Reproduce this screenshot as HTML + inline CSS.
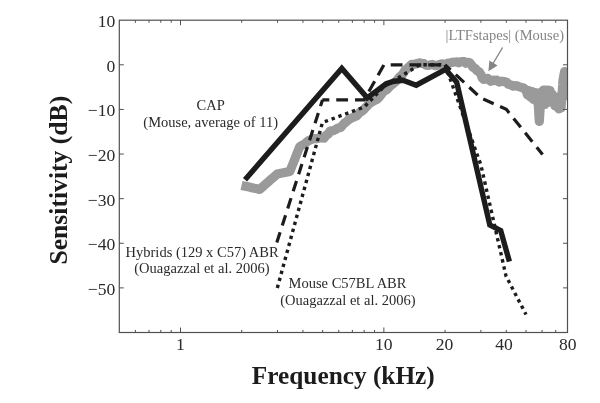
<!DOCTYPE html>
<html><head><meta charset="utf-8"><title>chart</title>
<style>
html,body{margin:0;padding:0;background:#fff;}
body{width:600px;height:403px;overflow:hidden;font-family:"Liberation Serif",serif;}
svg{display:block;will-change:transform;filter:blur(0.45px)}
text{font-family:"Liberation Serif",serif;fill:#2a2a2a}
.tk{font-size:17.6px}
.lb{font-size:14.5px}
.ax{font-size:25.3px;font-weight:bold;fill:#1c1c1c}
</style></head><body>
<svg width="600" height="403" viewBox="0 0 600 403">
<rect width="600" height="403" fill="#fff"/>
<defs><clipPath id="c"><rect x="119.3" y="20.2" width="448.2" height="312.3"/></clipPath></defs>
<g clip-path="url(#c)"><path d="M241.5 185.4 L244.1 186.0 L246.7 186.5 L249.3 187.1 L251.8 187.7 L254.4 188.3 L257.0 188.8 L259.6 189.4 L261.6 187.7 L263.5 186.0 L265.5 184.3 L267.5 182.6 L269.4 180.8 L271.4 179.1 L273.4 177.4 L275.3 175.7 L277.3 174.0 L279.8 173.5 L282.3 173.0 L284.8 172.5 L287.3 172.0 L289.8 171.5 L290.8 169.0 L291.8 166.6 L292.8 164.1 L293.8 161.6 L294.8 159.2 L295.7 156.7 L296.7 154.2 L297.7 151.7 L298.7 149.3 L299.7 146.8 L302.0 145.2 L304.4 144.2 L306.4 142.3 L308.4 140.8 L311.0 139.6 L313.8 138.5 L316.2 138.8 L318.7 138.3 L321.4 137.7 L324.0 138.2 L326.1 135.4 L328.3 133.9 L330.1 131.1 L333.0 130.6 L335.8 129.5 L338.1 127.9 L340.7 127.4 L343.0 124.8 L344.5 123.1 L346.5 121.7 L348.7 119.7 L350.9 118.4 L353.8 117.1 L356.8 115.8 L358.2 114.2 L360.1 112.0 L361.9 111.4 L363.6 109.9 L365.1 107.9 L366.6 106.7 L368.3 104.5 L370.1 103.1 L372.5 101.6 L374.7 100.4 L377.1 99.3 L378.7 97.9 L380.8 95.0 L382.3 93.2 L384.1 90.8 L386.6 90.1 L388.6 87.8 L390.6 85.6 L392.9 84.0 L394.9 82.1 L396.2 81.2 L398.3 78.4 L400.0 76.4 L401.7 75.4 L403.6 72.9 L404.9 70.3 L407.1 68.6 L409.5 66.3 L411.6 64.3 L414.3 64.4 L417.3 63.5 L420.3 62.8 L421.8 63.5 L423.9 63.6 L425.6 65.1 L428.8 65.3 L432.4 64.4 L435.4 65.7 L438.4 65.0 L440.1 64.3 L442.4 63.9 L445.1 64.7 L447.8 63.2 L450.1 63.0 L452.1 62.3 L455.4 62.0 L457.2 61.9 L458.7 62.8 L461.8 61.5 L464.4 61.6 L465.9 63.3 L468.2 62.4 L469.5 62.5 L472.1 65.6 L472.5 66.9 L475.7 68.7 L476.8 70.6 L479.0 71.6 L481.4 75.2 L482.0 77.7 L483.4 79.3 L485.5 79.2 L487.7 78.4 L490.6 81.2 L492.7 80.0 L494.5 80.6 L496.8 80.1 L499.1 82.1 L501.9 81.2 L503.5 81.6 L505.0 81.7 L506.9 82.4 L508.3 84.3 L510.5 84.7 L513.3 86.2 L514.8 85.6 L517.1 85.8 L517.9 86.4 L519.6 86.9 L523.4 88.0 L526.0 90.0 L526.8 92.5 L527.5 95.0 L528.2 92.8 L529.0 90.5 L529.5 92.7 L530.0 94.8 L530.5 97.0 L531.2 94.2 L532.0 91.5 L532.5 94.2 L533.0 96.8 L533.5 99.5 L534.0 97.2 L534.5 94.8 L535.0 92.5 L535.4 95.3 L535.9 98.2 L536.3 101.0 L536.7 98.3 L537.0 95.7 L537.4 93.0 L537.6 95.6 L537.8 98.2 L538.0 100.8 L538.2 103.4 L538.4 106.0 L538.5 108.6 L538.7 111.2 L538.8 113.8 L539.0 116.3 L539.1 118.9 L539.3 121.5 L539.5 118.9 L539.6 116.3 L539.8 113.8 L540.0 111.2 L540.1 108.6 L540.3 106.0 L540.5 103.2 L540.7 100.4 L540.9 97.6 L541.1 94.8 L541.3 92.0 L541.5 94.4 L541.7 96.8 L542.0 99.2 L542.2 101.6 L542.4 104.0 L542.6 101.2 L542.8 98.4 L543.1 95.6 L543.3 92.8 L543.5 90.0 L543.7 92.4 L543.9 94.8 L544.0 97.2 L544.2 99.7 L544.4 102.1 L544.6 104.5 L544.8 102.1 L545.0 99.7 L545.2 97.2 L545.3 94.8 L545.5 92.4 L545.7 90.0 L545.9 92.6 L546.1 95.2 L546.4 97.8 L546.6 100.4 L546.8 103.0 L547.0 100.4 L547.2 97.8 L547.5 95.2 L547.7 92.6 L547.9 90.0 L548.3 92.7 L548.6 95.3 L549.0 98.0 L549.3 95.5 L549.7 93.0 L550.0 90.5 L550.3 93.3 L550.7 96.2 L551.0 99.0 L551.5 96.5 L552.0 94.0 L552.3 97.0 L552.7 100.0 L553.0 103.0 L553.5 100.8 L554.0 98.5 L554.3 101.0 L554.7 103.5 L555.0 106.0 L555.3 103.7 L555.7 101.3 L556.0 99.0 L556.3 101.5 L556.7 104.0 L557.0 106.5 L557.2 104.1 L557.5 101.8 L557.8 99.4 L558.0 97.0 L558.2 99.4 L558.4 101.8 L558.6 104.2 L558.8 106.6 L559.0 109.0 L559.2 106.4 L559.4 103.8 L559.6 101.2 L559.8 98.6 L560.0 96.0 L560.2 98.4 L560.4 100.8 L560.6 103.2 L560.8 105.6 L561.0 108.0 L561.2 105.4 L561.4 102.8 L561.6 100.2 L561.8 97.6 L562.0 95.0 L562.2 92.5 L562.3 90.0 L562.5 87.5 L562.7 85.0 L562.8 82.5 L563.0 80.0 L563.5 77.2 L564.1 74.3 L564.6 71.5 L565.0 74.1 L565.4 76.8 L565.8 79.4 L566.2 82.0 L566.5 84.5 L566.9 87.0 L567.2 89.5 L567.5 92.0 L568.0 94.7 L568.5 97.3 L569.0 100.0" fill="none" stroke="#9a9a9a" stroke-width="9.2" stroke-linejoin="round" stroke-linecap="butt"/></g>
<path d="M276.8 242.5 L322.5 99.9" fill="none" stroke="#1c1c1c" stroke-width="3.2" stroke-dasharray="10.8 7.1" stroke-linejoin="miter"/>
<path d="M322.3 99.9 L364.2 99.9 L383.9 64.8 L445.1 64.8" fill="none" stroke="#1c1c1c" stroke-width="3.2" stroke-dasharray="11.8 6.95" stroke-dashoffset="4.8" stroke-linejoin="miter"/>
<path d="M445.1 64.8 L480.9 98.0 L506.3 109.3 L542.6 154.5" fill="none" stroke="#1c1c1c" stroke-width="3.2" stroke-dasharray="11.4 7.05" stroke-dashoffset="3.95" stroke-linejoin="miter"/>
<path d="M277.3 288.0 L322.4 122.6 L364.2 107.0 L383.9 86.6 L419.7 64.8 L445.1 64.8 L480.9 165.0 L506.0 276.0 L526.0 314.5" fill="none" stroke="#1c1c1c" stroke-width="3.4" stroke-dasharray="3.4 3.85" stroke-linejoin="miter"/>
<path d="M245.0 179.8 L341.8 68.4 L367.2 97.8 L386.2 83.8 L394.0 81.2 L403.0 80.2 L416.2 85.2 L445.6 69.3 L456.7 82.3 L489.8 225.0 L500.7 230.5 L509.4 261.6" fill="none" stroke="#1c1c1c" stroke-width="5.4" stroke-linejoin="miter" stroke-miterlimit="10"/>
<rect x="119.3" y="20.2" width="448.2" height="312.3" fill="none" stroke="#505050" stroke-width="1.2"/>
<path d="M135.40 332.5v-2.6M135.40 20.2v2.6M149.01 332.5v-2.6M149.01 20.2v2.6M160.81 332.5v-2.6M160.81 20.2v2.6M171.21 332.5v-2.6M171.21 20.2v2.6M241.73 332.5v-2.6M241.73 20.2v2.6M277.53 332.5v-2.6M277.53 20.2v2.6M302.94 332.5v-2.6M302.94 20.2v2.6M322.65 332.5v-2.6M322.65 20.2v2.6M338.75 332.5v-2.6M338.75 20.2v2.6M352.36 332.5v-2.6M352.36 20.2v2.6M364.15 332.5v-2.6M364.15 20.2v2.6M374.56 332.5v-2.6M374.56 20.2v2.6M445.07 332.5v-2.6M445.07 20.2v2.6M480.88 332.5v-2.6M480.88 20.2v2.6M506.29 332.5v-2.6M506.29 20.2v2.6M525.99 332.5v-2.6M525.99 20.2v2.6M542.09 332.5v-2.6M542.09 20.2v2.6M555.71 332.5v-2.6M555.71 20.2v2.6M180.51 332.5v-5M180.51 20.2v5M383.86 332.5v-5M383.86 20.2v5M119.3 64.81h4.5M567.5 64.81h-4.5M119.3 109.43h4.5M567.5 109.43h-4.5M119.3 154.04h4.5M567.5 154.04h-4.5M119.3 198.66h4.5M567.5 198.66h-4.5M119.3 243.27h4.5M567.5 243.27h-4.5M119.3 287.89h4.5M567.5 287.89h-4.5" stroke="#505050" stroke-width="1" fill="none"/>
<text x="115.3" y="27.10" text-anchor="end" class="tk">10</text>
<text x="115.3" y="71.71" text-anchor="end" class="tk">0</text>
<text x="115.3" y="116.33" text-anchor="end" class="tk">−10</text>
<text x="115.3" y="160.94" text-anchor="end" class="tk">−20</text>
<text x="115.3" y="205.56" text-anchor="end" class="tk">−30</text>
<text x="115.3" y="250.17" text-anchor="end" class="tk">−40</text>
<text x="115.3" y="294.79" text-anchor="end" class="tk">−50</text>
<text x="180.51" y="349.8" text-anchor="middle" class="tk">1</text>
<text x="383.86" y="349.8" text-anchor="middle" class="tk">10</text>
<text x="444.57" y="349.8" text-anchor="middle" class="tk">20</text>
<text x="503.99" y="349.8" text-anchor="middle" class="tk">40</text>
<text x="567.80" y="349.8" text-anchor="middle" class="tk">80</text>
<path d="M502.6 47.5 L491.5 66" stroke="#858585" stroke-width="1.4" fill="none"/>
<path d="M488.4 71.2 L489.4 60.6 L497.6 65.6 Z" fill="#858585"/>
<text x="210.7" y="110.4" text-anchor="middle" class="lb">CAP</text>
<text x="210.7" y="127.4" text-anchor="middle" class="lb">(Mouse, average of 11)</text>
<text x="202.1" y="256.7" text-anchor="middle" class="lb">Hybrids (129 x C57) ABR</text>
<text x="201.9" y="273.3" text-anchor="middle" class="lb">(Ouagazzal et al. 2006)</text>
<text x="347.5" y="287.6" text-anchor="middle" class="lb">Mouse C57BL ABR</text>
<text x="347.9" y="304.6" text-anchor="middle" class="lb">(Ouagazzal et al. 2006)</text>
<text x="564" y="39.5" text-anchor="end" class="lb" style="fill:#858585">|LTFstapes| (Mouse)</text>
<text x="343.3" y="384" text-anchor="middle" class="ax">Frequency (kHz)</text>
<text transform="translate(66.8,180.2) rotate(-90)" text-anchor="middle" class="ax" style="font-size:25.65px">Sensitivity (dB)</text>
</svg>
</body></html>
